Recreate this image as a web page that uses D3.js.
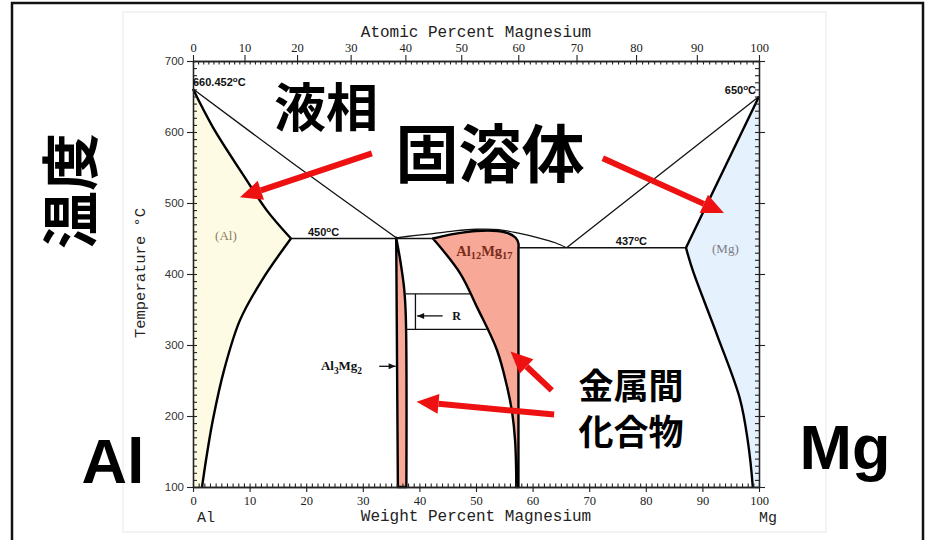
<!DOCTYPE html>
<html><head><meta charset="utf-8">
<script src="https://cdn.jsdelivr.net/npm/d3@7"></script>
<style>body{margin:0;background:#fff}svg{display:block}</style>
</head><body><svg id="c" width="928" height="540"></svg>
<script>
// Al–Mg phase diagram. Composition in weight % Mg, temperature in °C.
const alSolidus  = [[0,660.452],[3.5,607],[9.5,532],[13,490],[17.3,450]];
const alSolvus   = [[17.3,450],[12.2,391.5],[8.3,335],[5.5,265],[3.5,194],[2.3,138],[1.6,100]];
const alLiquidus = [[0,660.452],[18,554],[35.9,451]];
const betaLeft   = [[35.9,451],[36.2,100]];
const betaRight  = [[35.9,451],[36.6,420],[37.3,380],[37.6,340],[37.7,100]];
const gammaTop   = [[42.4,450],[44,453],[47,457.5],[50,460.5],[53,461],[55.5,458],[57,451],[57.5,443],[57.5,437]];
const gammaRight = [[57.5,437],[57.5,100]];
const gammaLeft  = [[42.4,450],[47.2,401],[50.2,353],[53.7,293],[55.5,241],[56.4,204],[56.9,166],[57.1,120],[57.1,100]];
const dome       = [[35.9,451],[39,454],[42.4,457],[46,460.5],[50,463],[54,462.5],[57.5,457.5],[61,451],[64,444],[66,437]];
const mgSolidus  = [[100,650],[87.1,437]];
const mgSolvus   = [[87.1,437],[88.3,405],[92.6,314],[96.6,225],[98.0,166],[98.9,100]];
const mgLiquidus = [[66,437],[100,650]];
const eutectic450 = [[17.3,450],[42.4,450]];
const eutectic437 = [[57.5,437],[87.1,437]];
const rTop    = [[37.6,372],[49.2,372]];
const rBottom = [[37.7,322],[51.9,322]];
const rEdge   = [[39.3,372],[39.3,322]];
const rArrow  = [[44.1,341],[39.6,341]];
const al3mg2Arrow = [[32.9,270],[35.8,270]];

// axis ticks
const weightTicks = d3.range(0,101,10);
const atomicTicks = d3.range(0,101,10);
const tempTicks   = d3.range(100,701,100);

// callouts: [tail, head] in (wt %, °C)
const callouts = [
  [[31.6,570],[8.3,508]],
  [[72.4,563],[93.8,486]],
  [[63.4,236],[56.1,291]],
  [[63.8,202],[39.5,220]]
];

const massMg = 24.305, massAl = 26.982;
const atToWt = a => 100 * a * massMg / (a * massMg + (100 - a) * massAl);

const svg = d3.select("#c");
const x = d3.scaleLinear().domain([0,100]).range([193,759]);
const y = d3.scaleLinear().domain([100,700]).range([487,61]);

// outer frame and scan area
svg.append("rect").attr("x",123).attr("y",12).attr("width",703).attr("height",520)
  .attr("fill","#fff").attr("stroke","#f0f0f0").attr("stroke-width",1.5);
svg.append("path").attr("d","M12,540V3H923V540").attr("fill","none").attr("stroke","#111").attr("stroke-width",2.5);

const curve = d3.line().x(d=>x(d[0])).y(d=>y(d[1])).curve(d3.curveCatmullRom.alpha(0.5));
const join = (...segs) => segs.map((s,i)=> i ? curve(s).replace(/^M/,"L") : curve(s)).join("");

// regions
svg.append("path").attr("d", join(alSolidus, alSolvus, [[1.6,100],[0,100]]) + "Z").attr("fill","#fdfbe3");
svg.append("path").attr("d", join(mgSolidus, mgSolvus, [[98.9,100],[100,100]]) + "Z").attr("fill","#e5f1fc");
svg.append("path").attr("d", join(betaLeft, [[36.2,100],[37.7,100]], betaRight.slice().reverse()) + "Z")
  .attr("fill","#f8a896").attr("stroke","#000").attr("stroke-width",2.4).attr("stroke-linejoin","round");
svg.append("path").attr("d", join(gammaTop, gammaRight, [[57.5,100],[57.1,100]], gammaLeft.slice().reverse()) + "Z")
  .attr("fill","#f8a896").attr("stroke","#000").attr("stroke-width",2.4).attr("stroke-linejoin","round");

// thin boundaries
[alLiquidus, mgLiquidus, dome, eutectic450, eutectic437, rTop, rBottom, rEdge, rArrow, al3mg2Arrow].forEach(s=>{
  svg.append("path").attr("d", curve(s)).attr("fill","none").attr("stroke","#111").attr("stroke-width",1.3);
});
// arrowheads for R and Al3Mg2 pointers
[rArrow, al3mg2Arrow].forEach(s=>{
  const tx = x(s[1][0]), ty = y(s[1][1]), dir = Math.sign(x(s[1][0]) - x(s[0][0]));
  svg.append("path").attr("d",`M${tx},${ty}L${tx-dir*7},${ty-3}L${tx-dir*7},${ty+3}Z`).attr("fill","#111");
});
// thick boundaries
[alSolidus, alSolvus, mgSolidus, mgSolvus].forEach(s=>{
  svg.append("path").attr("d", curve(s)).attr("fill","none").attr("stroke","#000").attr("stroke-width",2.4);
});

// axes
function styleAxis(g, labels){
  g.select(".domain").attr("stroke","#222").attr("stroke-width",1.3);
  g.selectAll(".tick line").attr("stroke","#222").attr("stroke-width",1.1);
  if(!labels) g.selectAll(".tick text").remove();
}
const minorW = d3.range(0,101,1), minorA = d3.range(0,101,1).map(atToWt), minorT = d3.range(100,701,10);

let g;
g = svg.append("g").attr("transform",`translate(0,${y(100)})`)
  .call(d3.axisBottom(x).tickValues(weightTicks).tickSize(5).tickSizeOuter(0).tickPadding(4));
styleAxis(g,true); g.selectAll(".tick text").attr("font-family","Liberation Serif").attr("font-size",12.5).attr("fill","#222");
g = svg.append("g").attr("transform",`translate(0,${y(100)})`)
  .call(d3.axisBottom(x).tickValues(minorW).tickSize(-3.5).tickSizeOuter(0).tickFormat(""));
styleAxis(g,false);

g = svg.append("g").attr("transform",`translate(0,${y(700)})`)
  .call(d3.axisTop(x).tickValues(atomicTicks.map(atToWt)).tickSize(6).tickSizeOuter(0).tickPadding(3)
    .tickFormat((d,i)=>atomicTicks[i]));
styleAxis(g,true); g.selectAll(".tick text").attr("font-family","Liberation Serif").attr("font-size",12.5).attr("fill","#222");
g = svg.append("g").attr("transform",`translate(0,${y(700)})`)
  .call(d3.axisTop(x).tickValues(minorA).tickSize(-3.5).tickSizeOuter(0).tickFormat(""));
styleAxis(g,false);

g = svg.append("g").attr("transform",`translate(${x(0)},0)`)
  .call(d3.axisLeft(y).tickValues(tempTicks).tickSize(6).tickSizeOuter(0).tickPadding(3));
styleAxis(g,true); g.selectAll(".tick text").attr("font-family","Liberation Sans").attr("font-size",11.5).attr("fill","#333");
g = svg.append("g").attr("transform",`translate(${x(0)},0)`)
  .call(d3.axisLeft(y).tickValues(minorT).tickSize(-4).tickSizeOuter(0).tickFormat(""));
styleAxis(g,false);

g = svg.append("g").attr("transform",`translate(${x(100)},0)`)
  .call(d3.axisRight(y).tickValues(tempTicks).tickSize(6).tickSizeOuter(0).tickFormat(""));
styleAxis(g,false);
g = svg.append("g").attr("transform",`translate(${x(100)},0)`)
  .call(d3.axisRight(y).tickValues(minorT).tickSize(-4).tickSizeOuter(0).tickFormat(""));
styleAxis(g,false);

// axis titles
const mono = "Liberation Mono";
svg.append("text").attr("x",(x(0)+x(100))/2).attr("y",37).attr("text-anchor","middle")
  .attr("font-family",mono).attr("font-size",16).attr("fill","#222").text("Atomic Percent Magnesium");
svg.append("text").attr("x",(x(0)+x(100))/2).attr("y",521).attr("text-anchor","middle")
  .attr("font-family",mono).attr("font-size",16).attr("fill","#222").text("Weight Percent Magnesium");
svg.append("text").attr("x",197).attr("y",522).attr("font-family",mono).attr("font-size",15).attr("fill","#222").text("Al");
svg.append("text").attr("x",759).attr("y",522).attr("font-family",mono).attr("font-size",15).attr("fill","#222").text("Mg");
svg.append("text").attr("transform","translate(145,273) rotate(-90)").attr("text-anchor","middle")
  .attr("font-family",mono).attr("font-size",15.5).attr("fill","#222").text("Temperature °C");

// temperature labels with raised degree mark
function degLabel(px, py, num, anchor){
  const t = svg.append("text").attr("x",px).attr("y",py).attr("text-anchor",anchor||"start")
    .attr("font-family","Liberation Sans").attr("font-size",11).attr("font-weight","bold").attr("fill","#111");
  t.append("tspan").text(num);
  t.append("tspan").attr("font-size",8).attr("dy",-4).text("o");
  t.append("tspan").attr("dy",4).text("C");
}
degLabel(x(0), y(660.452)-3, "660.452");
degLabel(x(100)-3, y(650)-3, "650", "end");
degLabel(x(20.3), y(450)-3, "450");
degLabel(x(74.7), y(437)-3, "437");

// chemical formula labels with subscripts
function subLabel(px, py, parts, color, size){
  const t = svg.append("text").attr("x",px).attr("y",py).attr("font-family","Liberation Serif")
    .attr("font-size",size).attr("font-weight","bold").attr("fill",color);
  let shift = 0;
  parts.forEach(p=>{
    t.append("tspan").attr("dy",-shift).text(p[0]);
    t.append("tspan").attr("font-size",size*0.72).attr("dy",3.5).text(p[1]);
    shift = 3.5;
  });
}
subLabel(x(46.5), y(457)+22, [["Al","12"],["Mg","17"]], "#7a2c1c", 14.5);
subLabel(x(22.6), y(270)+4, [["Al","3"],["Mg","2"]], "#111", 13);
svg.append("text").attr("x",x(45.8)).attr("y",y(341)+4.5).attr("font-family","Liberation Serif")
  .attr("font-size",12).attr("font-weight","bold").attr("fill","#111").text("R");
svg.append("text").attr("x",x(3.9)).attr("y",240).attr("font-family","Liberation Serif")
  .attr("font-size",13).attr("fill","#8a7b63").text("(Al)");
svg.append("text").attr("x",x(91.7)).attr("y",253).attr("font-family","Liberation Serif")
  .attr("font-size",13).attr("fill","#7d7d85").text("(Mg)");

// red callout arrows
callouts.forEach(([a,b])=>{
  const x1=x(a[0]), y1=y(a[1]), x2=x(b[0]), y2=y(b[1]);
  const L = Math.hypot(x2-x1,y2-y1), ux=(x2-x1)/L, uy=(y2-y1)/L, hl=22, hw=10;
  const bx=x2-ux*hl, by=y2-uy*hl;
  svg.append("line").attr("x1",x1).attr("y1",y1).attr("x2",bx).attr("y2",by)
    .attr("stroke","#ee1111").attr("stroke-width",6);
  svg.append("path").attr("d",`M${x2},${y2}L${bx-uy*hw},${by+ux*hw}L${bx+uy*hw},${by-ux*hw}Z`).attr("fill","#ee1111");
});

// large annotations
const cjk = "'Noto Sans CJK JP','Noto Sans CJK SC',sans-serif";
const big = (t, px, py, size, fam) => svg.append("text").attr("x",px).attr("y",py).attr("text-anchor","middle")
  .attr("font-family",fam).attr("font-size",size).attr("font-weight","bold").attr("fill","#000").text(t);
big("液相", 326, 127, 52, cjk);
big("固溶体", 490, 177, 63, cjk);
big("金属間", 631, 399, 35, cjk);
big("化合物", 631, 445, 35, cjk);
big("Al", 113, 483, 63, "Liberation Sans");
big("Mg", 845, 469, 63, "Liberation Sans");
svg.append("text").attr("transform","translate(92,191) rotate(-90)").attr("text-anchor","middle")
  .attr("font-family",cjk).attr("font-size",58).attr("font-weight","bold").attr("fill","#000").text("温度");
</script></body></html>
